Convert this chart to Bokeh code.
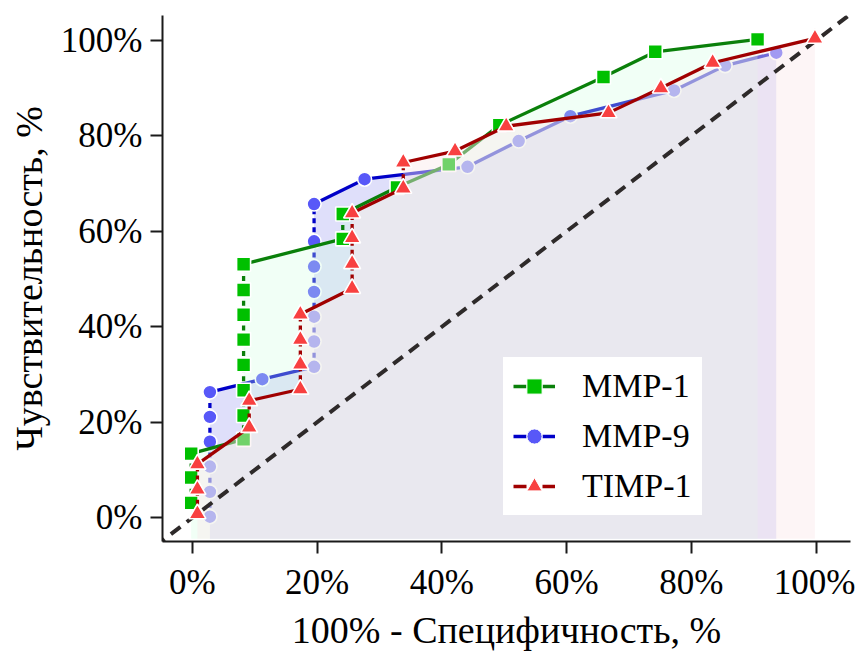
from bokeh.plotting import figure
from bokeh.models import FixedTicker, Legend, LegendItem, ColumnDataSource
from bokeh.embed import file_html
from bokeh.resources import INLINE

# ---------------- data (percent) ----------------
x_ticks = [0, 20, 40, 60, 80, 100]
x_tick_labels = ["0%", "20%", "40%", "60%", "80%", "100%"]
y_ticks = [0, 20, 40, 60, 80, 100]
y_tick_labels = ["0%", "20%", "40%", "60%", "80%", "100%"]

mmp1_x = [-0.2, -0.2, -0.2, 8.2, 8.2, 8.2, 8.2, 8.2, 8.2, 8.2, 8.2, 24.1, 24.1, 32.8, 41.1, 49.2, 65.9, 74.2, 90.6]
mmp1_y = [3.1, 8.4, 13.4, 16.4, 21.4, 26.7, 32.0, 37.3, 42.5, 47.7, 53.1, 58.4, 63.6, 69.2, 74.0, 82.2, 92.3, 97.6, 100.2]

mmp9_x = [2.8, 2.8, 2.8, 2.8, 2.8, 2.8, 11.2, 19.5, 19.5, 19.5, 19.5, 19.5, 19.5, 19.5, 27.6, 44.1, 52.3, 60.6, 77.2, 85.4, 93.6]
mmp9_y = [0.2, 5.4, 10.7, 15.9, 21.1, 26.3, 29.0, 31.6, 36.9, 42.1, 47.3, 52.6, 57.9, 65.7, 70.9, 73.5, 78.9, 84.1, 89.5, 94.7, 97.4]

timp1_x = [0.8, 0.8, 0.8, 9.1, 9.1, 17.3, 17.3, 17.3, 17.3, 25.6, 25.6, 25.6, 25.6, 33.8, 33.8, 42.1, 50.3, 66.7, 75.1, 83.4, 99.8]
timp1_y = [0.8, 5.9, 11.2, 18.9, 24.5, 26.9, 32.1, 37.3, 42.6, 48.0, 53.2, 58.6, 63.8, 69.0, 74.4, 76.8, 82.0, 84.8, 90.0, 95.3, 100.4]

diag = [-6, 110]

FONT = "Liberation Serif"
X0, X1, Y0, Y1 = -4.8, 105.5, -5.0, 105.2
FILL_BOTTOM = -4.4

p = figure(width=855, height=653, x_range=(X0, X1), y_range=(Y0, Y1),
           output_backend="svg", toolbar_location=None,
           min_border_left=162, min_border_right=5, min_border_top=15, min_border_bottom=108)
p.grid.visible = False
p.outline_line_color = None
p.background_fill_color = "white"
p.border_fill_color = "white"

series = [
    dict(name="MMP-9", xs=mmp9_x, ys=mmp9_y, line="#0000c8", mk="#5858f8", marker="circle", size=14,
         fill="#c4c4f6", falpha=0.55),
    dict(name="MMP-1", xs=mmp1_x, ys=mmp1_y, line="#0a800a", mk="#00c000", marker="square", size=14,
         fill="#d0ffe0", falpha=0.3),
    dict(name="TIMP-1", xs=timp1_x, ys=timp1_y, line="#a00000", mk="#f84040", marker="triangle", size=17,
         fill="#fbe8ec", falpha=0.45),
]

legend_map = {}
for s in series:
    xs, ys = s["xs"], s["ys"]
    # fill under curve
    p.patch([xs[0]] + xs + [xs[-1]], [FILL_BOTTOM] + ys + [FILL_BOTTOM],
            fill_color=s["fill"], fill_alpha=s["falpha"], line_color=None)
    if s["name"] == "TIMP-1":
        # diagonal reference line
        p.line(diag, diag, line_color="#2e2a2a", line_width=4, line_dash="12 8")
    solid = dict(x0=[], y0=[], x1=[], y1=[])
    dashed = dict(x0=[], y0=[], x1=[], y1=[])
    for i in range(len(xs) - 1):
        d = dashed if xs[i] == xs[i + 1] else solid
        d["x0"].append(xs[i]); d["y0"].append(ys[i])
        d["x1"].append(xs[i + 1]); d["y1"].append(ys[i + 1])
    p.segment("x0", "y0", "x1", "y1", source=ColumnDataSource(solid),
              line_color=s["line"], line_width=3.3)
    p.segment("x0", "y0", "x1", "y1", source=ColumnDataSource(dashed),
              line_color=s["line"], line_width=3.3, line_dash="5 4")
    p.scatter(xs, ys, marker=s["marker"], size=s["size"], fill_color=s["mk"],
              line_color="white", line_width=1.6)
    # legend proxies (placed outside the visible ranges)
    lr = p.line([-1000, -999], [-1000, -999], line_color=s["line"], line_width=3.3, line_dash="13 16")
    mr = p.scatter([-1000], [-1000], marker=s["marker"], size=12 if s["marker"] != "triangle" else 13,
                   fill_color=s["mk"], line_color="white", line_width=1)
    legend_map[s["name"]] = [lr, mr]

legend = Legend(items=[LegendItem(label=n, renderers=legend_map[n]) for n in ["MMP-1", "MMP-9", "TIMP-1"]],
                location=(341, 26))
legend.label_text_font = FONT
legend.label_text_font_size = "34px"
legend.label_text_color = "black"
legend.glyph_width = 42
legend.glyph_height = 38
legend.label_height = 38
legend.label_standoff = 27
legend.spacing = 12
legend.padding = 10
legend.margin = 0
legend.border_line_alpha = 0
legend.background_fill_color = "white"
legend.background_fill_alpha = 1.0
p.add_layout(legend, "center")

# axes
for ax, ticks, labels in [(p.xaxis, x_ticks, x_tick_labels), (p.yaxis, y_ticks, y_tick_labels)]:
    ax.ticker = FixedTicker(ticks=ticks)
    ax.major_label_overrides = {t: l for t, l in zip(ticks, labels)}
    ax.axis_line_color = "#1a1a1a"
    ax.axis_line_width = 2
    ax.major_tick_line_color = "#1a1a1a"
    ax.major_tick_line_width = 2
    ax.major_tick_out = 12
    ax.major_tick_in = 0
    ax.minor_tick_line_color = None
    ax.major_label_text_font = FONT
    ax.major_label_text_font_size = "35px"
    ax.major_label_text_color = "black"
    ax.axis_label_text_font = FONT
    ax.axis_label_text_font_size = "38px"
    ax.axis_label_text_font_style = "normal"
    ax.axis_label_text_color = "black"

p.xaxis.axis_label = "100% - Специфичность, %"
p.yaxis.axis_label = "Чувствительность, %"
p.xaxis.major_label_standoff = 9
p.yaxis.major_label_standoff = 8
p.xaxis.axis_label_standoff = 4
p.yaxis.axis_label_standoff = 8

open("out.html", "w").write(file_html(p, INLINE))
